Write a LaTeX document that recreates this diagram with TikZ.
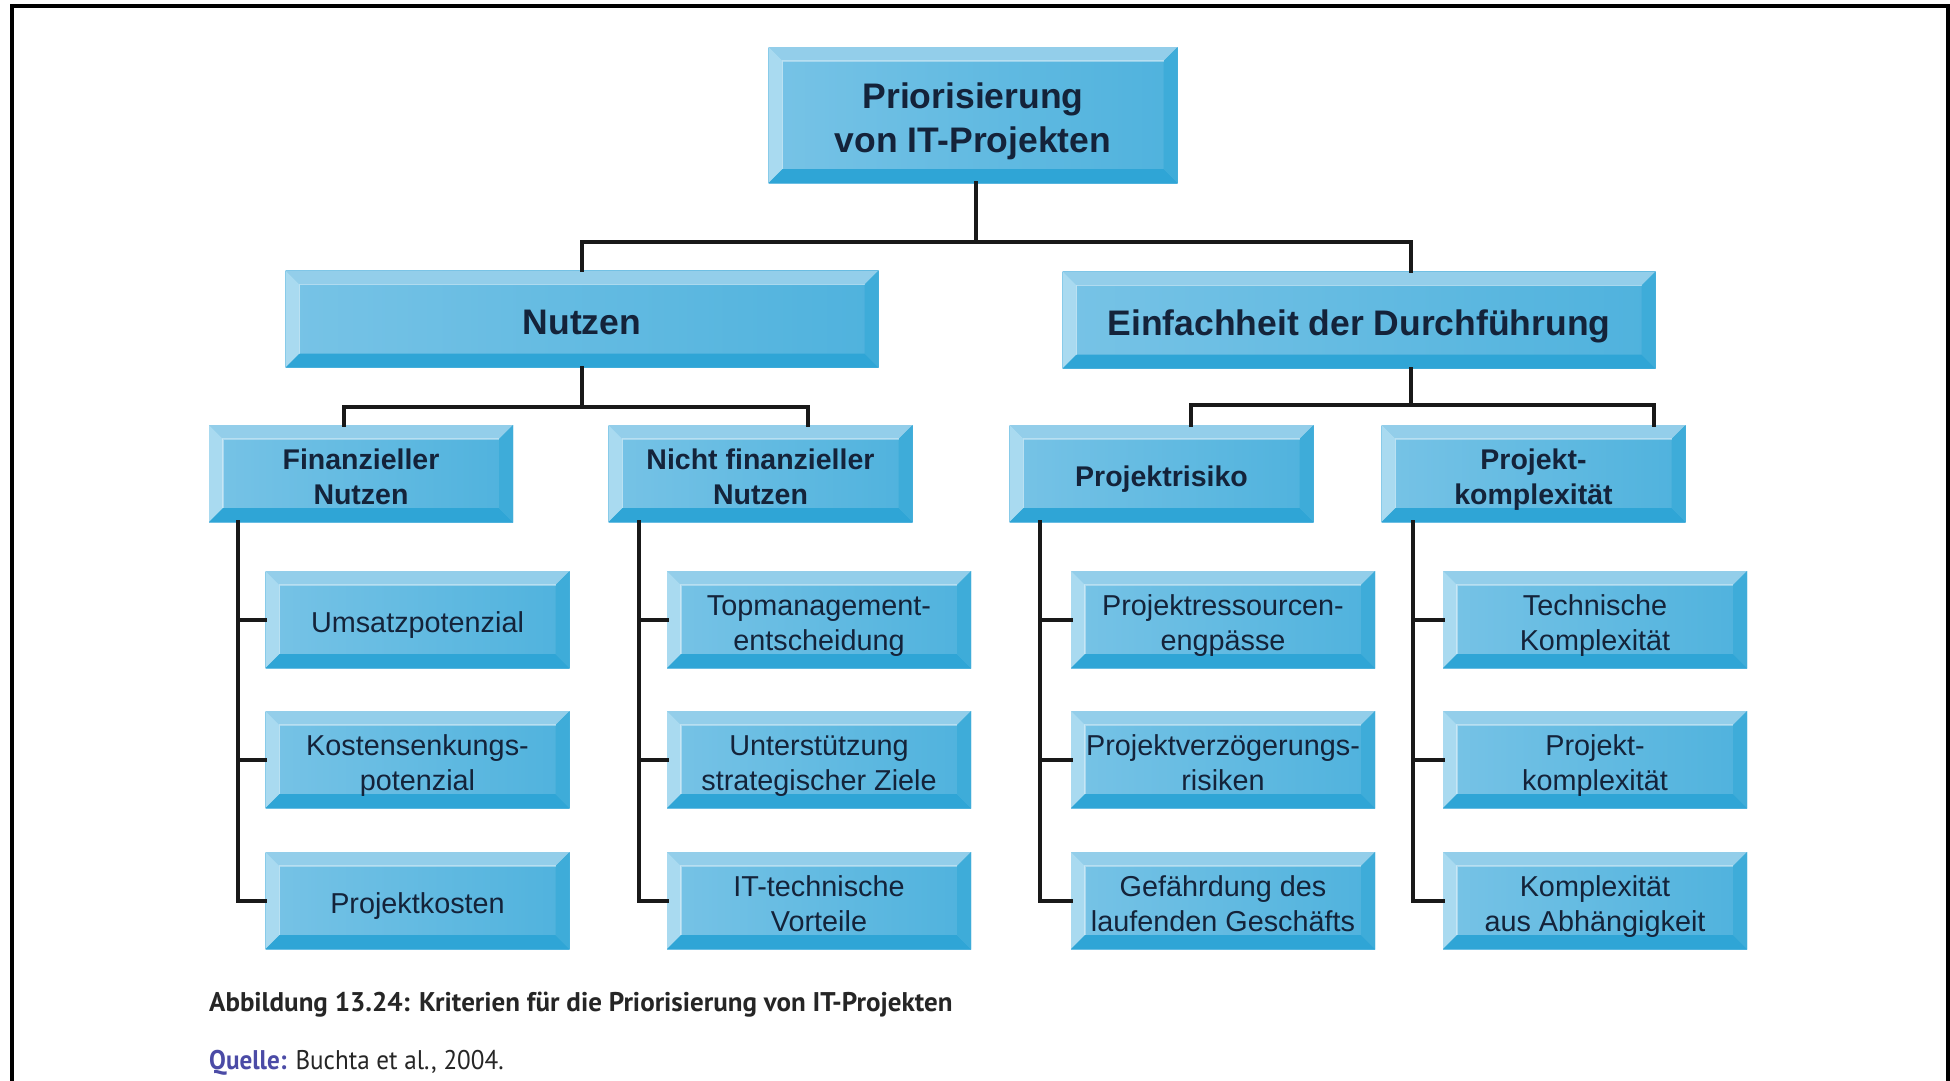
\documentclass[tikz,border=0pt]{standalone}
\usepackage{fontspec}
\setmainfont{Liberation Sans}
\newfontfamily\capfont{PT Sans}
\newfontfamily\srcfont[FakeStretch=0.93]{PT Sans}
\usetikzlibrary{calc}

\definecolor{facel}{HTML}{77C3E6}
\definecolor{facer}{HTML}{4FB2DD}
\definecolor{bvtopc}{HTML}{93CEEA}
\definecolor{bvleftc}{HTML}{A9DAF0}
\definecolor{bvbotc}{HTML}{2FA5D6}
\definecolor{bvrightc}{HTML}{3EACD9}
\definecolor{inkc}{HTML}{14233A}
\definecolor{srcblue}{HTML}{4B4BA6}

\newcommand{\bvw}{14pt}
% struts giving every label the same line metrics, set a little low in its box
\newcommand{\topstrut}{\rule{0pt}{\dimexpr 0.905em+7pt\relax}}
\newcommand{\botstrut}{\rule[-0.212em]{0pt}{0pt}}
% two-line label
\newcommand{\twolines}[2]{\topstrut#1\\#2}

\tikzset{
  bevelbox/.style={
    rectangle, inner sep=0pt, align=center, text=inkc,
    left color=facel, right color=facer,
    execute at begin node=\topstrut,
    execute at end node=\botstrut,
    path picture={
      \fill[bvtopc] (path picture bounding box.north west) -- (path picture bounding box.north east)
        -- ([shift={(-\bvw,-\bvw)}]path picture bounding box.north east)
        -- ([shift={(\bvw,-\bvw)}]path picture bounding box.north west) -- cycle;
      \fill[bvleftc] (path picture bounding box.north west) -- (path picture bounding box.south west)
        -- ([shift={(\bvw,\bvw)}]path picture bounding box.south west)
        -- ([shift={(\bvw,-\bvw)}]path picture bounding box.north west) -- cycle;
      \fill[bvbotc] (path picture bounding box.south west) -- (path picture bounding box.south east)
        -- ([shift={(-\bvw,\bvw)}]path picture bounding box.south east)
        -- ([shift={(\bvw,\bvw)}]path picture bounding box.south west) -- cycle;
      \fill[bvrightc] (path picture bounding box.north east) -- (path picture bounding box.south east)
        -- ([shift={(-\bvw,\bvw)}]path picture bounding box.south east)
        -- ([shift={(-\bvw,-\bvw)}]path picture bounding box.north east) -- cycle;
      \draw[white, opacity=0.35, line width=1.5pt]
        ([shift={(\bvw,\bvw)}]path picture bounding box.south west)
        |- ([shift={(-\bvw,-\bvw)}]path picture bounding box.north east);
    }
  },
  rootbox/.style={bevelbox, minimum width=409pt, minimum height=136pt,
    font=\bfseries\fontsize{35.5}{44}\selectfont},
  mainbox/.style={bevelbox, minimum width=593pt, minimum height=97pt,
    font=\bfseries\fontsize{35.5}{44}\selectfont},
  subbox/.style={bevelbox, minimum width=304pt, minimum height=97pt,
    font=\bfseries\fontsize{28.5}{34.5}\selectfont},
  leafbox/.style={bevelbox, minimum width=304pt, minimum height=97pt,
    font=\fontsize{28.8}{35}\selectfont},
  conn/.style={line width=4pt, black!90, line cap=rect},
  frameline/.style={line width=3.5pt, black}
}

\begin{document}
\begin{tikzpicture}[x=1pt, y=-1pt]
\useasboundingbox (0,0) rectangle (1950,1080);
\fill[white] (0,0) rectangle (1950,1080);

% page frame (open at the bottom)
\draw[frameline] (12,1082) -- (12,6) -- (1948,6) -- (1948,1082);

% --- boxes ---
\node[rootbox] (top) at (973,115) {\twolines{Priorisierung}{von IT-Projekten}};

\node[mainbox] (nutzen) at (582,319) {Nutzen};
\node[mainbox] (einf) at (1359,320) {Einfachheit der Durchführung};

\node[subbox] (fin) at (361,473.5) {\twolines{Finanzieller}{Nutzen}};
\node[subbox] (nfin) at (760.5,473.5) {\twolines{Nicht finanzieller}{Nutzen}};
\node[subbox] (risk) at (1161.5,473.5) {Projektrisiko};
\node[subbox] (kompl) at (1533.5,473.5) {\twolines{Projekt-}{komplexität}};

\node[leafbox] (f1) at (417.5,619.5) {Umsatzpotenzial};
\node[leafbox] (f2) at (417.5,759.5) {\twolines{Kostensenkungs-}{potenzial}};
\node[leafbox] (f3) at (417.5,900.5) {Projektkosten};

\node[leafbox] (n1) at (819,619.5) {\twolines{Topmanagement-}{entscheidung}};
\node[leafbox] (n2) at (819,759.5) {\twolines{Unterstützung}{strategischer Ziele}};
\node[leafbox] (n3) at (819,900.5) {\twolines{IT-technische}{Vorteile}};

\node[leafbox] (r1) at (1223,619.5) {\twolines{Projektressourcen-}{engpässe}};
\node[leafbox] (r2) at (1223,759.5) {\twolines{Projektverzögerungs-}{risiken}};
\node[leafbox] (r3) at (1223,900.5) {\twolines{Gefährdung des}{laufenden Geschäfts}};

\node[leafbox] (k1) at (1595,619.5) {\twolines{Technische}{Komplexität}};
\node[leafbox] (k2) at (1595,759.5) {\twolines{Projekt-}{komplexität}};
\node[leafbox] (k3) at (1595,900.5) {\twolines{Komplexität}{aus Abhängigkeit}};

% --- junction points of the tree ---
\coordinate (bar0) at (976,242);
\coordinate (einfx) at (1411,0);
\coordinate (barN) at (582,407);
\coordinate (finx) at (344,0);
\coordinate (nfinx) at (808,0);
\coordinate (barE) at (1411,405);
\coordinate (riskx) at (1191,0);
\coordinate (komplx) at (1654,0);
\coordinate (sF) at (238,0);
\coordinate (sN) at (639,0);
\coordinate (sR) at (1040,0);
\coordinate (sK) at (1413,0);

% --- connectors ---
\draw[conn] (top.south -| bar0) -- (bar0);
\draw[conn] (nutzen.north) -- (nutzen.north |- bar0) -- (einfx |- bar0) -- (einfx |- einf.north);

\draw[conn] (nutzen.south) -- (barN);
\draw[conn] (finx |- fin.north) -- (finx |- barN) -- (nfinx |- barN) -- (nfinx |- nfin.north);

\draw[conn] (einfx |- einf.south) -- (barE);
\draw[conn] (riskx |- risk.north) -- (riskx |- barE) -- (komplx |- barE) -- (komplx |- kompl.north);

\draw[conn] (sF |- fin.south) -- (sF |- f3.west) -- (f3.west);
\draw[conn] (sF |- f1.west) -- (f1.west);
\draw[conn] (sF |- f2.west) -- (f2.west);

\draw[conn] (sN |- nfin.south) -- (sN |- n3.west) -- (n3.west);
\draw[conn] (sN |- n1.west) -- (n1.west);
\draw[conn] (sN |- n2.west) -- (n2.west);

\draw[conn] (sR |- risk.south) -- (sR |- r3.west) -- (r3.west);
\draw[conn] (sR |- r1.west) -- (r1.west);
\draw[conn] (sR |- r2.west) -- (r2.west);

\draw[conn] (sK |- kompl.south) -- (sK |- k3.west) -- (k3.west);
\draw[conn] (sK |- k1.west) -- (k1.west);
\draw[conn] (sK |- k2.west) -- (k2.west);

% --- caption ---
\node[anchor=base west, inner sep=0pt, text=black!85, font=\capfont\bfseries\fontsize{27}{32}\selectfont]
  (cap) at (209,1011) {Abbildung 13.24: Kriterien für die Priorisierung von IT-Projekten};
\node[anchor=base west, inner sep=0pt, text=black!85, font=\srcfont\fontsize{27}{32}\selectfont]
  (src) at (209,1069) {\textcolor{srcblue}{\bfseries Quelle:} Buchta et al., 2004.};
\end{tikzpicture}
\end{document}
